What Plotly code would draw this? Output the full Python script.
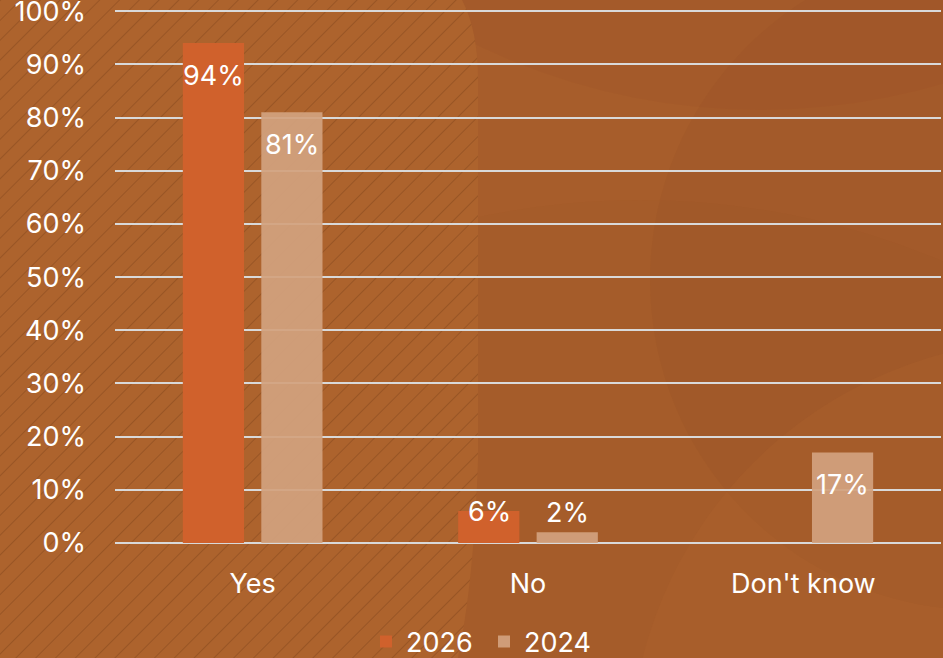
import base64
import plotly.graph_objects as go

categories = ["Yes", "No", "Don't know"]
series_names = ["2026", "2024"]
values_2026 = [94, 6, None]
values_2024 = [81, 2, 17]
tick_vals = [0, 10, 20, 30, 40, 50, 60, 70, 80, 90, 100]
tick_text = [f"{v}%" for v in tick_vals]

FONT = "Inter"
FS = 27
W, H = 943, 658
YMAX = 100.4
ML, MR, MT, MB = 115, 2, 9, 115
PW, PH = W - ML - MR, H - MT - MB

svg = f"""<svg xmlns='http://www.w3.org/2000/svg' width='{W}' height='{H}' viewBox='0 0 {W} {H}'>
<defs>
<pattern id='h' width='14' height='14' patternUnits='userSpaceOnUse' patternTransform='rotate(45)'>
<line x1='0' y1='0' x2='0' y2='14' stroke='#6e3712' stroke-opacity='0.42' stroke-width='1.6'/>
</pattern>
</defs>
<rect width='{W}' height='{H}' fill='#A75D2B'/>
<circle cx='760' cy='-540' r='650' fill='#8a4520' fill-opacity='0.08'/>
<circle cx='980' cy='280' r='330' fill='#8a4520' fill-opacity='0.09'/>
<circle cx='640' cy='980' r='780' fill='#8a4520' fill-opacity='0.04'/>
<circle cx='1050' cy='760' r='420' fill='#b86a30' fill-opacity='0.18'/>
<path d='M0 0 L462 0 Q478 30 478 80 L478 460 Q474 580 458 658 L0 658 Z' fill='#AD632D'/>
<path d='M0 0 L462 0 Q478 30 478 80 L478 460 Q474 580 458 658 L0 658 Z' fill='url(#h)'/>
</svg>"""
src = "data:image/svg+xml;base64," + base64.b64encode(svg.encode()).decode()

fig = go.Figure()
fig.add_trace(go.Bar(
    x=categories, y=values_2026, name=series_names[0],
    marker=dict(color="#D0612C", line=dict(width=0)),
))
fig.add_trace(go.Bar(
    x=categories, y=values_2024, name=series_names[1],
    marker=dict(color="rgba(210,161,126,0.93)", line=dict(width=0)),
))

# data labels: inside-end labels sit ~32px below bar top; small values sit above
annotations = []
for series, xshift in ((values_2026, -39), (values_2024, 39)):
    for cat, v in zip(categories, series):
        if v is None:
            continue
        if v >= 10:
            ys = -32
        else:
            ys = 0 if v >= 5 else 20
        annotations.append(dict(
            x=cat, y=v, xref="x", yref="y", text=f"{v}%",
            showarrow=False, xshift=xshift, yshift=ys,
            xanchor="center", yanchor="middle",
            font=dict(color="white", size=FS, family=FONT),
        ))

fig.update_layout(
    width=W, height=H,
    autosize=False,
    margin=dict(l=ML, r=MR, t=MT, b=MB, pad=0, autoexpand=False),
    paper_bgcolor="#A75D2B",
    plot_bgcolor="rgba(0,0,0,0)",
    font=dict(family=FONT, size=FS, color="white"),
    barmode="group",
    bargap=0.43,
    bargroupgap=0.22,
    showlegend=True,
    annotations=annotations,
    legend=dict(
        orientation="h",
        xref="container", yref="container",
        x=366 / W, xanchor="left",
        y=1 - 642 / H, yanchor="middle",
        font=dict(size=FS, color="white", family=FONT),
        bgcolor="rgba(0,0,0,0)",
        itemwidth=30,
        entrywidth=73, entrywidthmode="pixels",
        tracegroupgap=0,
    ),
    xaxis=dict(
        showgrid=False, showline=False, zeroline=False,
        ticks="", ticklabelstandoff=22,
        tickfont=dict(size=FS, color="white", family=FONT),
    ),
    yaxis=dict(
        range=[0, YMAX],
        tickvals=tick_vals, ticktext=tick_text,
        showgrid=True, gridcolor="#D9D9D9", gridwidth=2,
        zeroline=True, zerolinecolor="#D9D9D9", zerolinewidth=2,
        showline=False, ticks="", ticklabelstandoff=28,
        ticklabeloverflow="allow",
        tickfont=dict(size=FS, color="white", family=FONT),
    ),
    images=[dict(
        source=src, xref="paper", yref="paper",
        x=-ML / PW, y=1 + MT / PH,
        sizex=W / PW, sizey=H / PH,
        xanchor="left", yanchor="top",
        sizing="stretch", layer="below",
    )],
)

fig.write_html(
    "out.html",
    config={"displayModeBar": False},
    post_script="document.body.style.margin='0';document.body.style.overflow='hidden';",
)
